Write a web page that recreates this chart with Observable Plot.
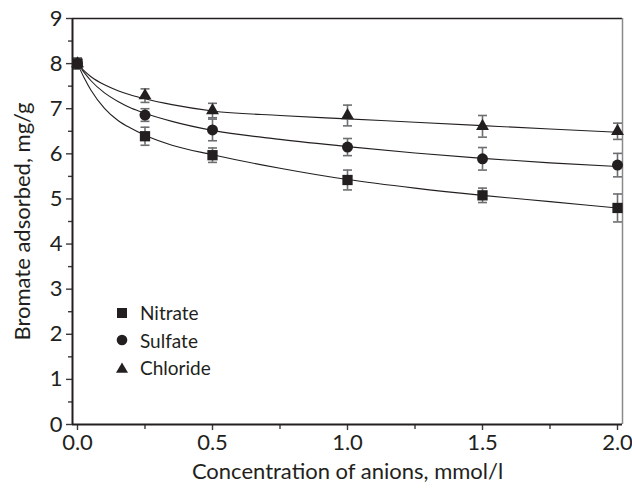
<!DOCTYPE html>
<html>
<head>
<meta charset="utf-8">
<script src="https://cdn.jsdelivr.net/npm/d3@7"></script>
<script src="https://cdn.jsdelivr.net/npm/@observablehq/plot@0.6"></script>
<style>
  body { margin: 0; background: #fff; }
  #chart { position: relative; width: 632px; height: 490px; font-family: Lato, "Open Sans", sans-serif; color: #231f20; }
  .legend { position: absolute; left: 114px; top: 299px; font-size: 19px; line-height: 27.5px; }
  .legend .row { display: flex; align-items: center; }
  .legend svg { width: 16px; height: 16px; margin-right: 10px; }
</style>
</head>
<body>
<div id="chart"></div>
<script>
// Anion concentrations (mmol/l) at which bromate uptake was measured
const concentrations = [0, 0.25, 0.5, 1.0, 1.5, 2.0];

// Bromate adsorbed (mg/g) and standard deviations for each competing anion
const nitrate    = [8.00, 6.39, 5.97, 5.42, 5.08, 4.80];
const nitrateErr = [0.12, 0.20, 0.16, 0.22, 0.16, 0.31];
const sulfate    = [8.00, 6.86, 6.53, 6.15, 5.89, 5.75];
const sulfateErr = [0.12, 0.14, 0.24, 0.19, 0.25, 0.26];
const chloride    = [8.00, 7.29, 6.96, 6.85, 6.61, 6.50];
const chlorideErr = [0.12, 0.15, 0.16, 0.23, 0.24, 0.18];

// Fitted trend lines, sampled along the concentration axis
const fitX        = [0, 0.025, 0.05, 0.1, 0.15, 0.2, 0.25, 0.35, 0.5, 0.75, 1.0, 1.25, 1.5, 1.75, 2.0];
const nitrateFit  = [8.00, 7.68, 7.41, 7.01, 6.74, 6.56, 6.41, 6.19, 5.98, 5.68, 5.43, 5.24, 5.08, 4.94, 4.80];
const sulfateFit  = [8.00, 7.80, 7.62, 7.35, 7.16, 7.01, 6.90, 6.72, 6.52, 6.32, 6.16, 6.02, 5.90, 5.80, 5.72];
const chlorideFit = [8.00, 7.84, 7.71, 7.53, 7.40, 7.30, 7.22, 7.09, 6.95, 6.85, 6.775, 6.70, 6.625, 6.55, 6.48];

const seriesNames = ["Nitrate", "Sulfate", "Chloride"];
const seriesSymbols = ["square", "circle", "triangle"];

// Axis ticks
const xMajor = [0, 0.5, 1.0, 1.5, 2.0];
const xMinor = [0.25, 0.75, 1.25, 1.75];
const yMajor = [0, 1, 2, 3, 4, 5, 6, 7, 8, 9];
const yMinor = [0.5, 1.5, 2.5, 3.5, 4.5, 5.5, 6.5, 7.5, 8.5];
const xDomain = [-0.0185, 2.0185];
const yDomain = [0, 9];

const ink = "#231f20";
const barGray = "#6d6e71";

const values = [nitrate, sulfate, chloride];
const errors = [nitrateErr, sulfateErr, chlorideErr];
const fits = [nitrateFit, sulfateFit, chlorideFit];

const points = seriesNames.flatMap((name, s) =>
  concentrations.map((c, i) => ({anion: name, x: c, y: values[s][i], lo: values[s][i] - errors[s][i], hi: values[s][i] + errors[s][i]}))
);
const curves = seriesNames.flatMap((name, s) =>
  fitX.map((x, i) => ({anion: name, x, y: fits[s][i]}))
);

// Horizontal end cap for the error bars
const capSymbol = {
  draw(context, size) {
    const w = Math.sqrt(size);
    context.moveTo(-w / 2, 0);
    context.lineTo(w / 2, 0);
  }
};

const dotSizes = {square: 5.8, circle: 5.5, triangle: 4.8};
const fontFamily = "Lato, 'Open Sans', sans-serif";

const chart = Plot.plot({
  width: 632,
  height: 490,
  marginLeft: 72,
  marginRight: 10,
  marginTop: 18,
  marginBottom: 66,
  style: {fontFamily, fontSize: "22px", color: ink, background: "#fff"},
  x: {domain: xDomain},
  y: {domain: yDomain},
  marks: [
    // frame
    Plot.ruleY([yDomain[1]], {stroke: ink, strokeWidth: 1.3}),
    Plot.ruleX([xDomain[1]], {stroke: "#8a8a8a", strokeWidth: 1.5}),
    // fitted lines
    Plot.line(curves, {x: "x", y: "y", z: "anion", curve: "monotone-x", stroke: ink, strokeWidth: 1.1}),
    // error bars
    Plot.ruleX(points, {x: "x", y1: "lo", y2: "hi", stroke: barGray, strokeWidth: 1.6}),
    Plot.dot(points, {x: "x", y: "lo", symbol: capSymbol, r: 9 / Math.sqrt(Math.PI), stroke: barGray, strokeWidth: 1.6}),
    Plot.dot(points, {x: "x", y: "hi", symbol: capSymbol, r: 9 / Math.sqrt(Math.PI), stroke: barGray, strokeWidth: 1.6}),
    // markers
    ...seriesNames.map((name, s) =>
      Plot.dot(points.filter(d => d.anion === name), {x: "x", y: "y", symbol: seriesSymbols[s], r: dotSizes[seriesSymbols[s]], fill: ink, stroke: "none"})
    ),
    // axes
    Plot.axisY({ticks: yMajor, tickSize: 6, tickPadding: 4, tickFormat: d3.format("d"), stroke: "#3a3a3a", strokeWidth: 1.4, fontSize: 22, fontFamily,
      label: "Bromate adsorbed, mg/g", labelAnchor: "center", labelOffset: 58, labelArrow: "none"}),
    Plot.axisY({ticks: yMinor, tickSize: 4, tickFormat: () => "", stroke: "#3a3a3a", strokeWidth: 1.4, label: null}),
    Plot.axisX({ticks: xMajor, tickSize: 6, tickPadding: 4, tickFormat: d3.format(".1f"), stroke: "#3a3a3a", strokeWidth: 1.4, fontSize: 22, fontFamily,
      label: "Concentration of anions, mmol/l", labelAnchor: "center", labelOffset: 54, labelArrow: "none"}),
    Plot.axisX({ticks: xMinor, tickSize: 5, tickFormat: () => "", stroke: "#3a3a3a", strokeWidth: 1.4, label: null}),
    Plot.ruleX([xDomain[0]], {stroke: ink, strokeWidth: 2}),
    Plot.ruleY([yDomain[0]], {stroke: ink, strokeWidth: 2})
  ]
});

const root = document.getElementById("chart");
root.appendChild(chart);

// Series key drawn inside the plotting area
const legend = document.createElement("div");
legend.className = "legend";
const shapes = {
  square: `<rect x="3" y="3" width="10" height="10" fill="${ink}"/>`,
  circle: `<circle cx="8" cy="8" r="5.3" fill="${ink}"/>`,
  triangle: `<path d="M8,2.5 L14,12.8 L2,12.8 Z" fill="${ink}"/>`
};
seriesNames.forEach((name, s) => {
  const row = document.createElement("div");
  row.className = "row";
  row.innerHTML = `<svg viewBox="0 0 16 16">${shapes[seriesSymbols[s]]}</svg><span>${name}</span>`;
  legend.appendChild(row);
});
root.appendChild(legend);
</script>
</body>
</html>
